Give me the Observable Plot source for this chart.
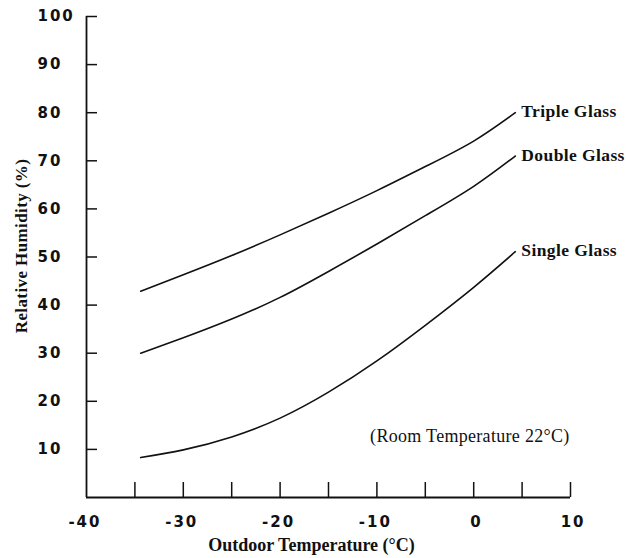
<!DOCTYPE html>
<html>
<head>
<meta charset="utf-8">
<script src="https://cdn.jsdelivr.net/npm/d3@7"></script>
<script src="https://cdn.jsdelivr.net/npm/@observablehq/plot@0.6"></script>
<style>
  html, body { margin: 0; padding: 0; background: #fff; }
  g[aria-description="tick-num"] text { letter-spacing: 2px; }
  g[aria-description="serif-lbl"] text { letter-spacing: 0.4px; }
  g[aria-description="note"] text { letter-spacing: 0.3px; }
</style>
</head>
<body>
<div id="chart"></div>
<script>
// Data
const temps  = [-34.4, -30, -25, -20, -15, -10, -5, 0, 4.3];
const triple = [42.9, 46.3, 50.3, 54.6, 59.1, 63.8, 68.8, 74.1, 80.0];
const double = [30.0, 33.2, 37.1, 41.6, 47.0, 52.7, 58.6, 64.7, 71.0];
const single = [8.3, 9.9, 12.6, 16.5, 21.9, 28.4, 35.8, 43.7, 51.1];
const seriesNames = ["Triple Glass", "Double Glass", "Single Glass"];
const xTicksMinor = [-35, -30, -25, -20, -15, -10, -5, 0, 5, 10];
const xTickLabels = [-40, -30, -20, -10, 0, 10];
const yTickLabels = [10, 20, 30, 40, 50, 60, 70, 80, 90, 100];
const xTitle = "Outdoor Temperature (°C)";
const yTitle = "Relative Humidity (%)";
const noteText = "(Room Temperature 22°C)";
const noteAt = {x: -10.7, y: 12.7};

const seriesVals = [triple, double, single];
const rows = [];
seriesNames.forEach((name, s) => temps.forEach((t, i) => rows.push({series: name, t, rh: seriesVals[s][i]})));
const ends = seriesNames.map((name, s) => ({series: name, t: temps[temps.length - 1], rh: seriesVals[s][temps.length - 1]}));

const sans = "'DejaVu Sans', 'Liberation Sans', Arial, sans-serif";
const serif = "'Liberation Serif', 'Times New Roman', Times, serif";
const ink = "#111";

const chart = Plot.plot({
  width: 626,
  height: 558,
  marginLeft: 86,
  marginRight: 56,
  marginTop: 16,
  marginBottom: 61,
  style: {background: "#fff", color: ink},
  x: {domain: [-40, 10], axis: null},
  y: {domain: [0, 100], axis: null},
  marks: [
    // axis lines
    Plot.ruleY([0], {x1: -40, x2: 10, stroke: ink, strokeWidth: 1.8}),
    Plot.ruleX([-40], {y1: 0, y2: 100, stroke: ink, strokeWidth: 1.8}),
    // inward ticks
    Plot.axisX(xTicksMinor, {anchor: "bottom", tickSize: -15, text: null, label: null, stroke: ink, strokeWidth: 1.5}),
    Plot.axisY(yTickLabels, {anchor: "left", tickSize: -11, text: null, label: null, stroke: ink, strokeWidth: 1.5}),
    // tick labels
    Plot.text(yTickLabels, {x: -40, y: d => d, text: d => String(d), textAnchor: "start", dx: -49,
      fontFamily: sans, fontWeight: "bold", fontSize: 15, fill: ink, ariaDescription: "tick-num"}),
    Plot.text(xTickLabels.filter(d => d !== 0), {x: d => d, y: 0, text: d => String(d), textAnchor: "end", dx: 15, dy: 25,
      fontFamily: sans, fontWeight: "bold", fontSize: 15, fill: ink, ariaDescription: "tick-num"}),
    Plot.text(xTickLabels.filter(d => d === 0), {x: d => d, y: 0, text: d => String(d), textAnchor: "end", dx: 9, dy: 25,
      fontFamily: sans, fontWeight: "bold", fontSize: 15, fill: ink, ariaDescription: "tick-num"}),
    // curves
    Plot.line(rows, {x: "t", y: "rh", z: "series", curve: "natural", stroke: ink, strokeWidth: 1.6}),
    // series labels
    Plot.text(ends, {x: "t", y: "rh", text: "series", textAnchor: "start", dx: 6, dy: -1,
      fontFamily: serif, fontWeight: "bold", fontSize: 17.5, fill: ink, ariaDescription: "serif-lbl"}),
    // note
    Plot.text([noteText], {x: noteAt.x, y: noteAt.y, text: d => d, textAnchor: "start",
      fontFamily: serif, fontSize: 18, fill: ink, ariaDescription: "note"}),
    // titles
    Plot.text([xTitle], {frameAnchor: "bottom", text: d => d, textAnchor: "middle", lineAnchor: "middle", dx: -17, dy: 48,
      fontFamily: serif, fontWeight: "bold", fontSize: 18, fill: ink}),
    Plot.text([yTitle], {frameAnchor: "left", text: d => d, textAnchor: "middle", lineAnchor: "middle", rotate: -90, dx: -65, dy: -11,
      fontFamily: serif, fontWeight: "bold", fontSize: 17, fill: ink, ariaDescription: "serif-lbl"})
  ]
});
document.getElementById("chart").appendChild(chart);
</script>
</body>
</html>
